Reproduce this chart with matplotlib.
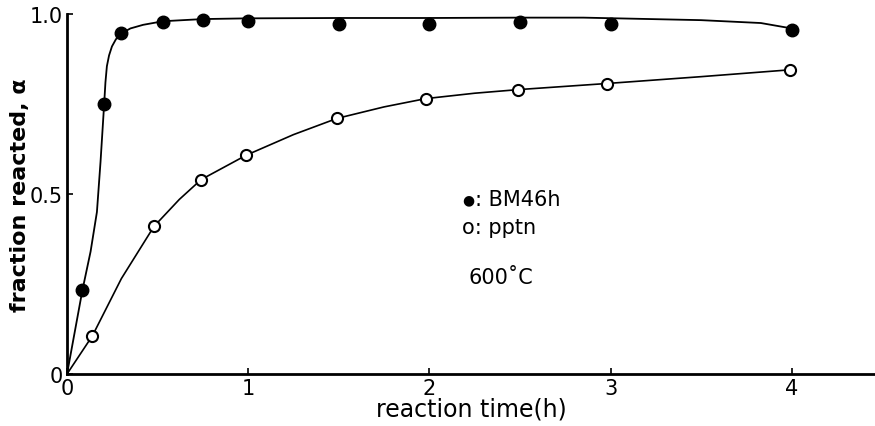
import matplotlib
matplotlib.use("Agg")
import matplotlib.pyplot as plt

# ---------------------------------------------
# DADOS
# ---------------------------------------------
# BM46h (pontos cheios)
bm_t = [0.085, 0.205, 0.30, 0.53, 0.75, 1.0, 1.5, 2.0, 2.5, 3.0, 4.0]
bm_alpha = [0.233, 0.75, 0.946, 0.978, 0.983, 0.98, 0.972, 0.972, 0.978, 0.972, 0.956]
# curva desenhada a mao para BM46h
bm_curve_t = [0.0, 0.085, 0.13, 0.165, 0.185, 0.205, 0.212, 0.22, 0.232, 0.248, 0.27,
              0.30, 0.35, 0.42, 0.53, 0.75, 1.0, 1.5, 2.0, 2.5, 2.85, 3.5, 3.83, 4.0]
bm_curve_alpha = [0.0, 0.233, 0.34, 0.45, 0.59, 0.75, 0.81, 0.855, 0.885, 0.91, 0.93,
                  0.946, 0.96, 0.97, 0.98, 0.986, 0.988, 0.989, 0.989, 0.99, 0.99,
                  0.983, 0.975, 0.96]

# pptn (pontos abertos)
pp_t = [0.14, 0.48, 0.74, 0.99, 1.49, 1.98, 2.49, 2.98, 3.99]
pp_alpha = [0.106, 0.41, 0.54, 0.608, 0.71, 0.765, 0.79, 0.807, 0.845]
pp_curve_t = [0.0, 0.14, 0.30, 0.48, 0.62, 0.74, 0.99, 1.25, 1.49, 1.75, 1.98,
              2.25, 2.49, 2.98, 3.5, 3.99]
pp_curve_alpha = [0.0, 0.106, 0.265, 0.41, 0.485, 0.54, 0.608, 0.665, 0.71, 0.742, 0.765,
                  0.78, 0.79, 0.807, 0.826, 0.845]

xticks = [0, 1, 2, 3, 4]
yticks = [0, 0.5, 1.0]
ytick_labels = ["0", "0.5", "1.0"]

# ---------------------------------------------
# FIGURA
# ---------------------------------------------
plt.rcParams['font.family'] = ['DejaVu Sans']

fig = plt.figure(figsize=(8.75, 4.27), dpi=100)
ax = fig.add_axes([0.0766, 0.1218, 0.9234, 0.843])

ax.plot(bm_curve_t, bm_curve_alpha, color='black', lw=1.3, clip_on=False)
ax.plot(pp_curve_t, pp_curve_alpha, color='black', lw=1.2, clip_on=False)

ax.plot(bm_t, bm_alpha, 'o', color='black', ms=9, clip_on=False, zorder=3)
ax.plot(pp_t, pp_alpha, 'o', mfc='white', mec='black', mew=1.5, ms=8,
        clip_on=False, zorder=3)

ax.set_xlim(0, 4.46)
ax.set_ylim(0, 1.0)

ax.spines['top'].set_visible(False)
ax.spines['right'].set_visible(False)
ax.spines['left'].set_linewidth(2.0)
ax.spines['bottom'].set_linewidth(2.0)

ax.set_xticks(xticks)
ax.set_xticklabels([str(v) for v in xticks])
ax.set_yticks(yticks)
ax.set_yticklabels(ytick_labels)
ax.tick_params(axis='both', direction='in', length=4, width=1.2,
               labelsize=15, pad=3)

ax.set_xlabel("reaction time(h)", fontsize=17, labelpad=-1)
ax.set_ylabel("fraction reacted, \u03b1", fontsize=16, fontweight='bold', labelpad=0)

# legenda escrita como texto
ax.text(2.18, 0.486, "\u25cf", fontsize=10, va='center', ha='left')
ax.text(2.25, 0.486, ": BM46h", fontsize=15, va='center', ha='left')
ax.text(2.18, 0.408, "o: pptn", fontsize=15, va='center', ha='left')
ax.text(2.215, 0.27, "600\u02daC", fontsize=15, va='center', ha='left')

fig.savefig("out.png", dpi=100)
